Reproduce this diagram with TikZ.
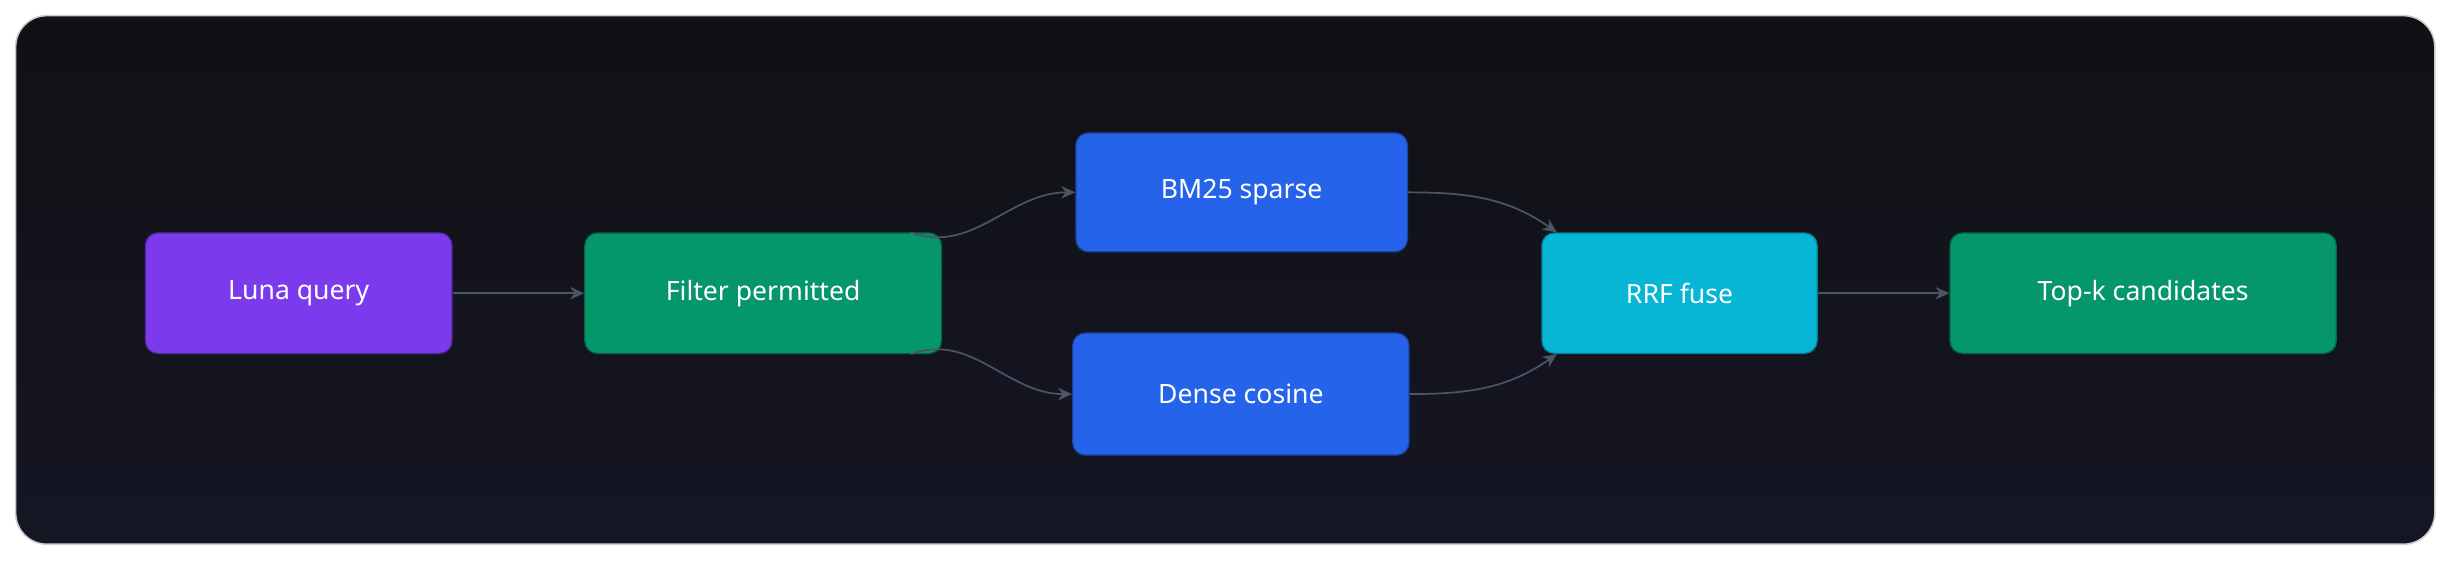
\documentclass[tikz,border=0pt]{standalone}
\usepackage{fontspec}
\setmainfont{Noto Sans}
\usetikzlibrary{arrows.meta}
\definecolor{bgA}{HTML}{101114}
\definecolor{bgB}{HTML}{151624}
\definecolor{edge}{HTML}{4B5563}
\definecolor{purp}{HTML}{7C3AED}
\definecolor{grn}{HTML}{059669}
\definecolor{blu}{HTML}{2563EB}
\definecolor{cyn}{HTML}{06B6D4}
\begin{document}
\begin{tikzpicture}[x=1pt,y=-1pt,
  box/.style={draw=#1!70!black,line width=0.8pt,fill=#1,rounded corners=8pt,text=white,font=\fontsize{17}{20}\selectfont,inner sep=0pt},
  conn/.style={draw=edge,line width=1.1pt,-{Stealth[length=9pt,width=8pt]}}]
\useasboundingbox (0,0) rectangle (1568,359);
\fill[white] (0,0) rectangle (1568,359);
\shade[top color=bgA,bottom color=bgB,rounded corners=20pt,draw=gray!40,line width=1pt] (10,10) rectangle (1557,348);
\node[box=purp,minimum width=196pt,minimum height=77pt] (luna) at (191,187.5) {Luna query};
\node[box=grn,minimum width=228pt,minimum height=77pt] (filt) at (488,187.5) {Filter permitted};
\node[box=blu,minimum width=212pt,minimum height=76pt] (bm) at (794,123) {BM25 sparse};
\node[box=blu,minimum width=215pt,minimum height=78pt] (dense) at (793.5,252) {Dense cosine};
\node[box=cyn,minimum width=176pt,minimum height=77pt] (rrf) at (1074,187.5) {RRF fuse};
\node[box=grn,minimum width=247pt,minimum height=77pt] (top) at (1370.5,187.5) {Top-k candidates};
\draw[conn] (luna) -- (filt);
\draw[conn] ([xshift=-20pt]filt.north east) to[out=-20,in=180] (bm.west);
\draw[conn] ([xshift=-20pt]filt.south east) to[out=20,in=180] (dense.west);
\draw[conn] (bm.east) to[out=0,in=145] ([xshift=10pt]rrf.north west);
\draw[conn] (dense.east) to[out=0,in=-145] ([xshift=10pt]rrf.south west);
\draw[conn] (rrf) -- (top);
\end{tikzpicture}
\end{document}
